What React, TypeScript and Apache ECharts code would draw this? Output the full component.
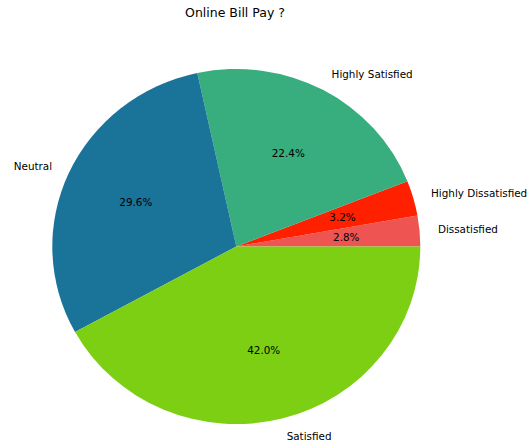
import React, { useEffect, useRef } from "react";
import * as echarts from "echarts";

const categories = ["Dissatisfied", "Highly Dissatisfied", "Highly Satisfied", "Neutral", "Satisfied"];
const counts = [7, 8, 56, 74, 105];
const sliceColors = ["#ee5552", "#ff2000", "#38ad7d", "#1a7399", "#7ccf12"];
const titleText = "Online Bill Pay ?";

const total = counts.reduce((a, b) => a + b, 0);
const cumulative = counts.map((_, i) => counts.slice(0, i).reduce((a, b) => a + b, 0));

const CX = 236.3;
const CY = 246.5;
const RX = 184;
const RY = 177.5;
const FONT = "DejaVu Sans";
const LABEL_SIZE = 10.4;

export default function App() {
  const ref = useRef<HTMLDivElement>(null);
  useEffect(() => {
    if (!ref.current) return;
    const chart = echarts.init(ref.current, null, { renderer: "svg" });
    chart.setOption({
      animation: false,
      backgroundColor: "#ffffff",
      title: {
        text: titleText,
        left: 235,
        top: 6,
        padding: 0,
        textAlign: "center",
        textStyle: { fontFamily: FONT, fontSize: 12.5, fontWeight: "normal", color: "#000" },
      },
      series: [
        {
          type: "custom",
          coordinateSystem: "none",
          data: counts.map((c, i) => ({ name: categories[i], value: [c] })),
          renderItem: (params: any, api: any) => {
            const i = params.dataIndex;
            const v = api.value(0);
            const a0 = (cumulative[i] / total) * Math.PI * 2;
            const a1 = ((cumulative[i] + v) / total) * Math.PI * 2;
            const mid = (a0 + a1) / 2;
            const cos = Math.cos(mid);
            const sin = Math.sin(mid);
            return {
              type: "group",
              children: [
                {
                  type: "sector",
                  x: CX,
                  y: CY,
                  scaleY: RY / RX,
                  shape: { cx: 0, cy: 0, r0: 0, r: RX, startAngle: -a1, endAngle: -a0, clockwise: true },
                  style: { fill: sliceColors[i] },
                },
                {
                  type: "text",
                  style: {
                    text: categories[i],
                    x: CX + 1.1 * RX * cos,
                    y: CY - 1.1 * RY * sin,
                    align: cos >= 0 ? "left" : "right",
                    verticalAlign: "middle",
                    fontFamily: FONT,
                    fontSize: LABEL_SIZE,
                    fill: "#000",
                  },
                },
                {
                  type: "text",
                  style: {
                    text: ((v / total) * 100).toFixed(1) + "%",
                    x: CX + 0.6 * RX * cos,
                    y: CY - 0.6 * RY * sin,
                    align: "center",
                    verticalAlign: "middle",
                    fontFamily: FONT,
                    fontSize: LABEL_SIZE,
                    fill: "#000",
                  },
                },
              ],
            };
          },
        },
      ],
    });
    return () => chart.dispose();
  }, []);
  return (
    <div
      ref={ref}
      style={{ position: "fixed", left: 0, top: 0, width: 527, height: 442 }}
    />
  );
}
